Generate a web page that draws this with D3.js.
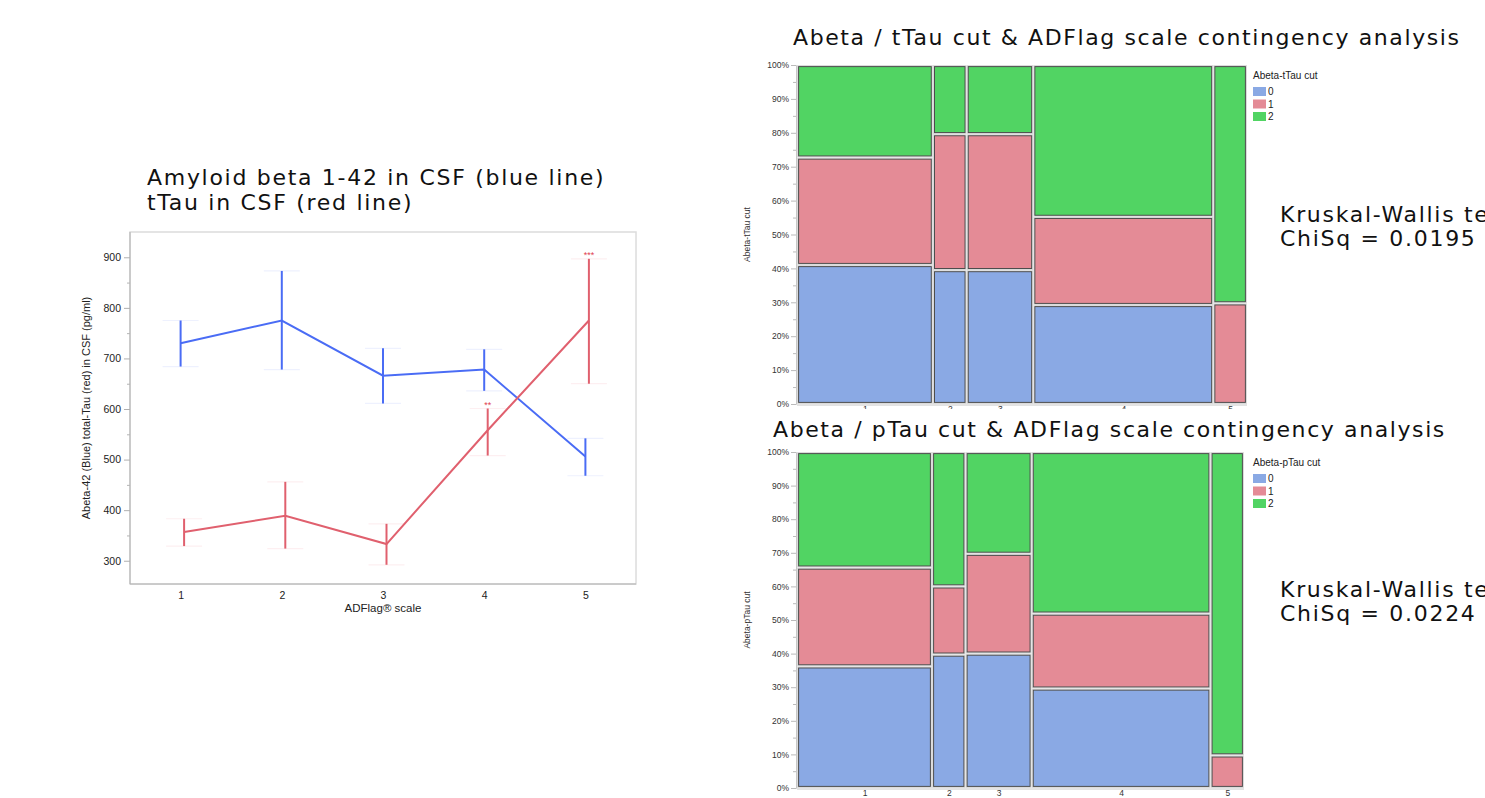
<!DOCTYPE html>
<html>
<head>
<meta charset="utf-8">
<script src="https://cdn.jsdelivr.net/npm/d3@7"></script>
<style>
  html, body { margin: 0; padding: 0; background: #fff; overflow: hidden; }
  svg { display: block; }
</style>
</head>
<body>
<div id="chart"></div>
<script>
// ---- line chart data (ADFlag scale vs CSF levels) ----
const adflagScale = [1, 2, 3, 4, 5];
const abetaMean = [730, 775, 666, 678, 506];
const abetaLow = [684, 678, 611, 636, 468];
const abetaHigh = [775, 873, 720, 718, 542];
const ttauMean = [357, 389, 333, 558, 775];
const ttauLow = [329, 324, 292, 508, 650];
const ttauHigh = [383, 456, 373, 601, 897];
const ttauSig = ['', '', '', '**', '***'];
const lineYTicks = [300, 400, 500, 600, 700, 800, 900];

// ---- mosaic data ----
const adflagGroups = ['1', '2', '3', '4', '5'];
const groupShare = [30.2, 7.5, 14.8, 40.0, 7.5];
const cutLevels = ['0', '1', '2'];
const tTauCut0 = [41.0, 39.5, 39.5, 29.2, 0];
const tTauCut1 = [31.7, 40.1, 40.1, 26.0, 29.7];
const tTauCut2 = [27.3, 20.4, 20.4, 44.8, 70.3];
const pTauCut0 = [36.2, 39.7, 40.0, 29.6, 0];
const pTauCut1 = [29.4, 20.3, 29.7, 22.3, 9.7];
const pTauCut2 = [34.4, 40.0, 30.3, 48.1, 90.3];
const pctTicks = d3.range(0, 101, 10);

const W = 1485, H = 798;
const titleFont = '"DejaVu Sans", Verdana, sans-serif';
const axisFont = '"Liberation Sans", Arial, Helvetica, sans-serif';
const translate = (x, y) => `translate(${x},${y})`;

const svg = d3.select('#chart').append('svg').attr('width', W).attr('height', H);

// big slide text: wide Verdana look
function bigText(sel) {
  return sel.attr('font-family', titleFont).attr('font-size', 22)
    .attr('letter-spacing', 1.7).attr('fill', '#111');
}

// ================= left: line chart =================
function drawLineChart() {
  const plot = { left: 130, right: 636, top: 232, bottom: 584 };
  const x = d3.scaleLinear().domain([0.5, 5.5]).range([plot.left, plot.right]);
  const y = d3.scaleLinear().domain([254, 950]).range([plot.bottom, plot.top]);
  const g = svg.append('g');

  const title = bigText(g.append('text'));
  title.append('tspan').attr('x', 147).attr('y', 185).text('Amyloid beta 1-42 in CSF (blue line)');
  title.append('tspan').attr('x', 147).attr('y', 210).text('tTau in CSF (red line)');

  // frame
  g.append('rect')
    .attr('x', plot.left).attr('y', plot.top)
    .attr('width', plot.right - plot.left).attr('height', plot.bottom - plot.top)
    .attr('fill', 'none').attr('stroke', '#dcdcdc').attr('stroke-width', 1.5);

  // y axis
  const yAxis = g.append('g').attr('transform', translate(plot.left, 0))
    .call(d3.axisLeft(y).tickValues(lineYTicks).tickSize(6).tickPadding(3));
  g.append('g').attr('transform', translate(plot.left, 0))
    .call(d3.axisLeft(y).tickValues(d3.range(350, 950, 100)).tickSize(3).tickFormat(''))
    .call(a => a.select('.domain').remove())
    .selectAll('line').attr('stroke', '#b5b5b5');
  yAxis.select('.domain').attr('stroke', '#b0b0b0').attr('d', `M0,${plot.top}V${plot.bottom}`);
  yAxis.selectAll('line').attr('stroke', '#b0b0b0');
  yAxis.selectAll('text').attr('font-family', axisFont).attr('font-size', 10.5).attr('fill', '#222');

  // x axis
  const xAxis = g.append('g').attr('transform', translate(0, plot.bottom))
    .call(d3.axisBottom(x).tickValues(adflagScale).tickSize(0).tickPadding(8).tickFormat(d3.format('d')));
  xAxis.select('.domain').attr('stroke', '#b0b0b0').attr('d', `M${plot.left},0H${plot.right}`);
  xAxis.selectAll('text').attr('font-family', axisFont).attr('font-size', 10.5).attr('fill', '#222');

  g.append('text')
    .attr('transform', translate(90, (plot.top + plot.bottom) / 2) + 'rotate(-90)')
    .attr('text-anchor', 'middle')
    .attr('font-family', axisFont).attr('font-size', 11).attr('fill', '#222')
    .text('Abeta-42 (Blue) total-Tau (red)  in CSF (pg/ml)');
  g.append('text')
    .attr('x', x(3)).attr('y', 612)
    .attr('text-anchor', 'middle')
    .attr('font-family', axisFont).attr('font-size', 11.5).attr('fill', '#222')
    .text('ADFlag\u00ae scale');

  const series = [
    { mean: abetaMean, low: abetaLow, high: abetaHigh, color: '#4a6cf5', cap: '#eef1fe', dx: 0 },
    { mean: ttauMean, low: ttauLow, high: ttauHigh, color: '#e0606e', cap: '#fdeff1', dx: 3.5 }
  ];

  series.forEach(s => {
    const pts = adflagScale.map((c, i) => ({ c, m: s.mean[i], lo: s.low[i], hi: s.high[i] }));
    // very faint caps
    pts.forEach(p => {
      [p.lo, p.hi].forEach(v => {
        g.append('line')
          .attr('x1', x(p.c) + s.dx - 18).attr('x2', x(p.c) + s.dx + 18)
          .attr('y1', y(v)).attr('y2', y(v))
          .attr('stroke', s.cap).attr('stroke-width', 1.2);
      });
    });
    g.append('path')
      .datum(pts)
      .attr('fill', 'none').attr('stroke', s.color).attr('stroke-width', 2)
      .attr('d', d3.line().x(p => x(p.c) + s.dx).y(p => y(p.m)));
    g.selectAll(null).data(pts).enter().append('line')
      .attr('x1', p => x(p.c) + s.dx).attr('x2', p => x(p.c) + s.dx)
      .attr('y1', p => y(p.lo)).attr('y2', p => y(p.hi))
      .attr('stroke', s.color).attr('stroke-width', 2);
  });

  g.selectAll(null).data(adflagScale.map((c, i) => ({ c, hi: ttauHigh[i], s: ttauSig[i] })))
    .enter().append('text')
    .attr('x', d => x(d.c) + 3.5).attr('y', d => y(d.hi) - 1)
    .attr('text-anchor', 'middle')
    .attr('font-family', axisFont).attr('font-size', 9).attr('fill', '#e0404e')
    .text(d => d.s);
}

// ================= right: mosaic plots =================
function drawMosaic(opts) {
  const { plot, title, titleX, titleY, yLabel, cuts, legendY, kwY, chi } = opts;
  const g = svg.append('g');
  const total = d3.sum(groupShare);
  const x = d3.scaleLinear().domain([0, total]).range([plot.left, plot.right]);
  const y = d3.scaleLinear().domain([0, 100]).range([plot.bottom, plot.top]);
  const colors = d3.scaleOrdinal().domain(cutLevels).range(['#8aa9e4', '#e48b96', '#51d463']);
  const gap = 1.6;

  const starts = d3.cumsum([0].concat(groupShare.slice(0, -1)));
  adflagGroups.forEach((grp, i) => {
    let acc = 0;
    cutLevels.forEach((lvl, j) => {
      const v = cuts[j][i];
      if (v > 0) {
        const x0 = x(starts[i]) + gap, x1 = x(starts[i] + groupShare[i]) - gap;
        const yTop = y(acc + v) + gap, yBot = y(acc) - gap;
        g.append('rect')
          .attr('x', x0 - 1).attr('y', yTop - 1)
          .attr('width', x1 - x0 + 2).attr('height', yBot - yTop + 2)
          .attr('fill', 'none').attr('stroke', '#d8d8d8').attr('stroke-width', 1);
        g.append('rect')
          .attr('x', x0).attr('y', yTop)
          .attr('width', x1 - x0).attr('height', yBot - yTop)
          .attr('fill', colors(lvl)).attr('stroke', '#4d4d4d').attr('stroke-width', 1);
      }
      acc += v;
    });
  });

  // y axis
  const yAxis = g.append('g').attr('transform', translate(plot.left - 1, 0))
    .call(d3.axisLeft(y).tickValues(pctTicks).tickSize(5).tickPadding(2).tickFormat(d => d + '%'));
  g.append('g').attr('transform', translate(plot.left - 1, 0))
    .call(d3.axisLeft(y).tickValues(d3.range(5, 100, 10)).tickSize(3).tickFormat(''))
    .call(a => a.select('.domain').remove())
    .selectAll('line').attr('stroke', '#bbb');
  yAxis.select('.domain').attr('stroke', '#c8c8c8');
  yAxis.selectAll('line').attr('stroke', '#bbb');
  yAxis.selectAll('text').attr('font-family', axisFont).attr('font-size', 8.5).attr('fill', '#333');

  // x axis
  const xAxis = g.append('g').attr('transform', translate(0, plot.bottom + 1))
    .call(d3.axisBottom(x)
      .tickValues(groupShare.map((w, i) => starts[i] + w / 2))
      .tickSize(0).tickPadding(1)
      .tickFormat((d, i) => adflagGroups[i]));
  xAxis.select('.domain').attr('stroke', '#c8c8c8').attr('d', `M${plot.left},0H${plot.right}`);
  xAxis.selectAll('text').attr('font-family', axisFont).attr('font-size', 8.5).attr('fill', '#333');

  g.append('text')
    .attr('transform', translate(750, (plot.top + plot.bottom) / 2) + 'rotate(-90)')
    .attr('text-anchor', 'middle')
    .attr('font-family', axisFont).attr('font-size', 8.5).attr('fill', '#333')
    .text(yLabel);

  // legend
  const lg = g.append('g').attr('transform', translate(1253, legendY));
  lg.append('text').attr('x', 0).attr('y', 0)
    .attr('font-family', axisFont).attr('font-size', 10).attr('fill', '#222')
    .text(yLabel);
  cutLevels.forEach((lvl, j) => {
    lg.append('rect').attr('x', 0).attr('y', 8 + j * 12.5)
      .attr('width', 13).attr('height', 9).attr('fill', colors(lvl));
    lg.append('text').attr('x', 15).attr('y', 16 + j * 12.5)
      .attr('font-family', axisFont).attr('font-size', 10).attr('fill', '#222')
      .text(lvl);
  });

  // Kruskal-Wallis annotation (runs past the right edge, as in the slide)
  const kw = bigText(g.append('text'));
  kw.append('tspan').attr('x', 1280).attr('y', kwY).text('Kruskal-Wallis test');
  kw.append('tspan').attr('x', 1280).attr('y', kwY + 24).text('ChiSq = ' + chi);

  // title with white background (covers axis labels above it)
  if (opts.titleBg) {
    g.append('rect').attr('x', 740).attr('y', opts.titleBg).attr('width', 740).attr('height', titleY - opts.titleBg + 6)
      .attr('fill', '#fff');
  }
  bigText(g.append('text'))
    .attr('x', titleX).attr('y', titleY)
    .attr('letter-spacing', 1.6)
    .text(title);
}

drawLineChart();

drawMosaic({
  plot: { left: 797, right: 1247, top: 65, bottom: 404 },
  title: 'Abeta / tTau cut & ADFlag scale contingency analysis',
  titleX: 793, titleY: 45,
  yLabel: 'Abeta-tTau cut',
  cuts: [tTauCut0, tTauCut1, tTauCut2],
  legendY: 79, kwY: 222, chi: '0.0195'
});

drawMosaic({
  plot: { left: 797, right: 1244, top: 452, bottom: 788 },
  title: 'Abeta / pTau cut & ADFlag scale contingency analysis',
  titleX: 773, titleY: 437, titleBg: 409,
  yLabel: 'Abeta-pTau cut',
  cuts: [pTauCut0, pTauCut1, pTauCut2],
  legendY: 466, kwY: 597, chi: '0.0224'
});
</script>
</body>
</html>
